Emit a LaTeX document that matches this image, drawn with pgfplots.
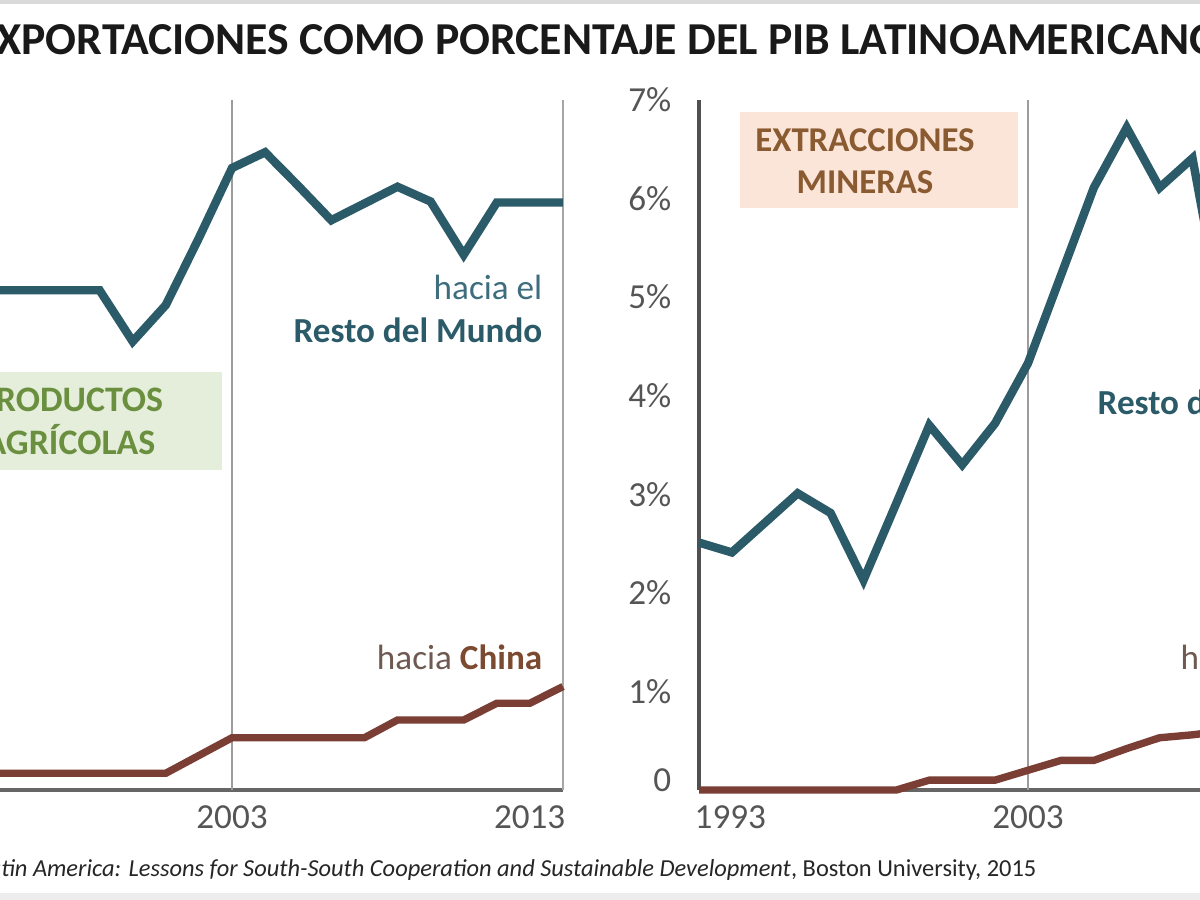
\documentclass[border=0pt]{standalone}
\usepackage{pgfplots}
\pgfplotsset{compat=1.18}
\usepackage{fontspec}
\setmainfont{Carlito}
\definecolor{row}{HTML}{2B5A68}
\definecolor{rowlt}{HTML}{3E6E7E}
\definecolor{chn}{HTML}{7A3E34}
\definecolor{axgray}{HTML}{666666}
\definecolor{axdark}{HTML}{505050}
\definecolor{vgray}{HTML}{9C9C9C}
\definecolor{tickc}{HTML}{555555}
\definecolor{agbox}{HTML}{E4EEDB}
\definecolor{agtxt}{HTML}{6A8F3E}
\definecolor{mibox}{HTML}{FBE4D8}
\definecolor{mitxt}{HTML}{8A5A30}
\definecolor{chtxt}{HTML}{7B4A30}
\definecolor{chlt}{HTML}{6E5A50}

\pgfplotstableread{
year row chn
1993 5.07 0.17
1994 5.07 0.17
1995 5.07 0.17
1996 5.07 0.17
1997 5.07 0.17
1998 5.07 0.17
1999 5.07 0.17
2000 4.55 0.17
2001 4.92 0.17
2002 5.60 0.35
2003 6.31 0.53
2004 6.47 0.53
2005 6.13 0.53
2006 5.78 0.53
2007 5.95 0.53
2008 6.12 0.71
2009 5.97 0.71
2010 5.43 0.71
2011 5.96 0.88
2012 5.96 0.88
2013 5.96 1.05
}\agri

\pgfplotstableread{
year row chn
1993 2.51 0.00
1994 2.41 0.00
1995 2.71 0.00
1996 3.01 0.00
1997 2.81 0.00
1998 2.13 0.00
1999 2.91 0.00
2000 3.70 0.10
2001 3.30 0.10
2002 3.72 0.10
2003 4.33 0.20
2004 5.22 0.30
2005 6.11 0.30
2006 6.72 0.42
2007 6.11 0.53
2008 6.41 0.56
2009 4.60 0.60
2010 4.90 0.65
2011 5.10 0.70
2012 4.70 0.75
2013 4.40 0.80
}\mine

\pgfplotsset{
  panel/.style={
    scale only axis, height=6.9cm,
    xmin=1993, xmax=2013, ymin=0, ymax=7,
    axis lines=left,
    axis line style={-, line width=0.9pt, axgray},
    major tick length=0pt,
    clip=false,
    tick label style={font=\fontsize{10}{12}\selectfont, text=tickc},
    xticklabel style={anchor=north, inner sep=0pt, yshift=-0.15cm},
  },
  rowline/.style={row, line width=2.4pt, line join=miter, no markers},
  chnline/.style={chn, line width=2.1pt, line join=miter, no markers},
}

\begin{document}
\begin{tikzpicture}[x=1cm,y=1cm]
\begin{scope}
\clip (0,0) rectangle (12,9);
\fill[white] (0,0) rectangle (12,9);
\fill[black!15] (0,8.96) rectangle (12,9);
\fill[black!7] (0,0) rectangle (12,0.07);

% category boxes
\fill[agbox] (-1.2,4.30) rectangle (2.22,5.28);
\fill[mibox] (7.40,6.92) rectangle (10.18,7.88);

% left panel: agricultural products
\begin{axis}[panel, width=6.62cm, at={(-0.99cm,1.10cm)}, anchor=south west,
  ytick=\empty, xtick={2003}, xticklabels={2003},
  extra x ticks={2013}, extra x tick labels={2013},
  extra x tick style={xticklabel style={anchor=north east, xshift=0.03cm}}]
  \draw[vgray, line width=0.6pt] (axis cs:2003,0) -- (axis cs:2003,7);
  \draw[black!35, line width=0.8pt] (axis cs:2013,0) -- (axis cs:2013,7);
  \addplot[rowline] table[x=year, y=row] {\agri};
  \addplot[chnline] table[x=year, y=chn] {\agri};
\end{axis}

% right panel: mining
\begin{axis}[panel, width=6.58cm, at={(6.99cm,1.10cm)}, anchor=south west,
  y axis line style={axdark},
  ytick={1,2,3,4,5,6,7},
  yticklabels={1\%,2\%,3\%,4\%,5\%,6\%,7\%},
  yticklabel style={anchor=east, inner sep=0pt, xshift=-0.27cm},
  extra y ticks={0}, extra y tick labels={0},
  extra y tick style={yticklabel style={yshift=0.1cm}},
  xtick={2003}, xticklabels={2003},
  extra x ticks={1993}, extra x tick labels={1993},
  extra x tick style={xticklabel style={anchor=north west, xshift=-0.05cm}}]
  \draw[vgray, line width=0.6pt] (axis cs:2003,0) -- (axis cs:2003,7);
  \addplot[rowline] table[x=year, y=row] {\mine};
  \addplot[chnline] table[x=year, y=chn] {\mine};
\end{axis}

% title
\node[anchor=base, inner sep=0pt, text=black!90, font=\bfseries\fontsize{13}{15}\selectfont]
  at (5.97,8.45) {EXPORTACIONES COMO PORCENTAJE DEL PIB LATINOAMERICANO};

% box texts
\node[align=center, inner sep=0pt, text=agtxt, font=\bfseries\fontsize{10.2}{12.2}\selectfont]
  at (0.70,4.79) {PRODUCTOS\\AGRÍCOLAS};
\node[align=center, inner sep=0pt, text=mitxt, font=\bfseries\fontsize{9.9}{12}\selectfont]
  at (8.65,7.39) {EXTRACCIONES\\MINERAS};

% series labels, left panel
\node[anchor=base east, inner sep=0pt, text=rowlt, font=\fontsize{10}{12}\selectfont]
  at (5.43,6.00) {hacia el};
\node[anchor=base east, inner sep=0pt, text=row, font=\bfseries\fontsize{10}{12}\selectfont]
  at (5.43,5.57) {Resto del Mundo};
\node[anchor=base east, inner sep=0pt, font=\fontsize{10}{12}\selectfont]
  at (5.43,2.30) {\textcolor{chlt}{hacia} \textcolor{chtxt}{\bfseries China}};

% series labels, right panel
\node[anchor=base west, inner sep=0pt, text=row, font=\bfseries\fontsize{10}{12}\selectfont]
  (rr) at (10.97,4.85) {Resto del Mundo};
\node[anchor=base east, inner sep=0pt, text=rowlt, font=\fontsize{10}{12}\selectfont]
  at ([yshift=0.41cm]rr.base east) {hacia el};
\node[anchor=base west, inner sep=0pt, font=\fontsize{10}{12}\selectfont]
  at (11.80,2.30) {\textcolor{chlt}{hacia} \textcolor{chtxt}{\bfseries China}};

% source
\node[anchor=base east, inner sep=0pt, text=black!85, font=\fontsize{6.95}{8}\selectfont]
  at (10.37,0.24) {Fuente: R. Ray et al., \textit{China in Latin America: Lessons for South-South Cooperation and Sustainable Development}, Boston University, 2015};
\end{scope}
\pgfresetboundingbox
\path[use as bounding box] (0,0) rectangle (12,9);
\end{tikzpicture}
\end{document}
